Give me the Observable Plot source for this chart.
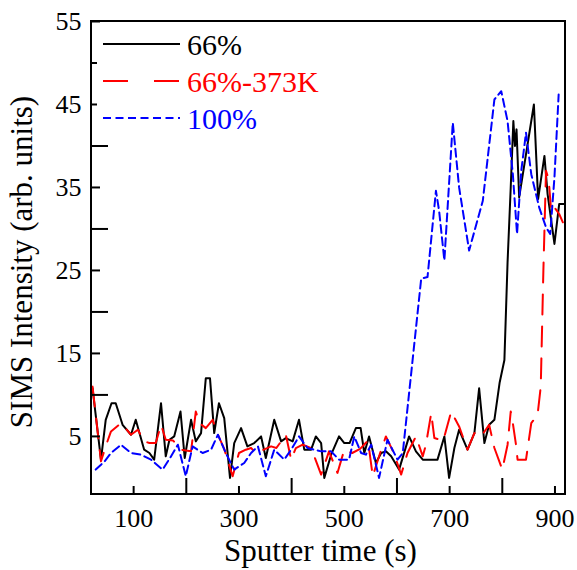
<!DOCTYPE html>
<html><head><meta charset="utf-8">
<script src="https://cdn.jsdelivr.net/npm/d3@7"></script>
<script src="https://cdn.jsdelivr.net/npm/@observablehq/plot@0.6"></script>
<style>body{margin:0;background:#fff}</style>
</head><body><div id="chart"></div>
<script>
// ---- data ----
const seriesNames = ["66%", "66%-373K", "100%"];
const seriesColors = ["#000000", "#ff0000", "#0000ff"];

const black66 = [[22,10.8],[38,2.2],[47,7],[58,9],[66,9],[79,6.4],[95,5.2],[104,7],[120,3.4],[130,3],[139,2.2],[152,9],[161,2.6],[168,4.6],[177,5],[189,8],[197,2.4],[209,7],[218,4.4],[228,5.4],[237,12],[245,12],[253,5.4],[262,9],[272,7.2],[283,0],[291,4.2],[304,6],[316,3.8],[329,4.2],[342,5],[351,2.4],[367,7],[380,4.4],[389,4.8],[402,4.4],[414,7],[424,3.4],[437,3.4],[446,5],[456,4.2],[462,0],[475,2.8],[490,5],[500,4.2],[510,4.2],[522,6],[531,6],[538,3],[547,5],[560,1.8],[570,3],[579,3.2],[589,2.6],[604,1],[623,5],[636,3.2],[649,2.2],[677,2.2],[690,5],[699,0],[709,3.6],[718,5.8],[734,3.4],[747,5.4],[756,10.8],[766,4.2],[775,6.4],[785,7],[795,11.5],[804,14.2],[810,26],[816,35],[821,43],[824,40],[827,42],[832,33.8],[860,45],[868,33.6],[880,38.8],[886,34.2],[899,28.2],[908,33],[921,33]];

const red373 = [[22,11],[38,2],[48,4],[57,5.6],[76,6.6],[95,5.2],[108,5.8],[120,4.4],[130,4.2],[142,4.2],[152,6.4],[161,4.6],[175,4.5],[190,3.4],[209,3.2],[218,8],[225,6.6],[237,6],[250,7],[260,5.2],[272,3.5],[282,1.4],[288,0.2],[300,3],[313,3.4],[323,3.6],[332,3],[347,3.4],[361,3.8],[371,3.6],[389,5.2],[399,2.2],[408,3.6],[421,4],[437,3.6],[456,0.4],[471,3.2],[487,0.6],[500,3.4],[515,3],[530,3.5],[545,4.5],[554,0.2],[568,3],[579,5],[594,3],[608,0.4],[620,3],[636,5],[649,2.6],[655,4],[665,7.8],[671,4.8],[688,4.5],[703,8],[718,6.2],[734,3.4],[747,5.4],[760,5],[775,6.4],[785,3.6],[800,1],[810,4],[816,8],[820,6.6],[826,4],[829,2.2],[845,2.2],[855,6.6],[867,7.6],[873,11],[878,25],[883,37],[888,36],[893,32],[900,32.5],[908,31.8],[915,30.8]];

const blue100 = [[28,1],[45,2],[57,3],[76,4],[95,3],[114,2.8],[133,2.2],[155,1],[170,2.5],[184,4],[199,0.2],[212,3.8],[231,3],[247,3.4],[260,5.2],[275,3],[291,1],[310,1.8],[323,3],[336,3.8],[351,0.2],[367,3.4],[386,2.2],[400,3.5],[414,5],[430,3.6],[456,3.2],[475,3.2],[490,2.2],[509,2.2],[519,5],[532,3],[541,2.8],[551,4],[566,0],[582,4.6],[601,2.2],[611,3],[646,24],[658,24.2],[674,34.6],[680,32.2],[690,26.2],[706,42.8],[718,35],[737,27.4],[763,33.4],[785,45.6],[798,46.6],[810,43],[820,36.6],[828,29.4],[836,37],[845,41.6],[855,36.6],[870,32.6],[883,30.2],[891,29.4],[899,36.2],[907,46.2]];

const xLabelTicks = [100, 300, 500, 700, 900];
const xMajorTicks = [200, 400, 600, 800];
const yLabelTicks = [5, 15, 25, 35, 45, 55];
const yMajorTicks = [10, 20, 30, 40, 50];

// ---- layout ----
const W = 577, H = 570, mL = 91, mR = 12, mT = 21, mB = 76;
const frameW = W - mL - mR, frameH = H - mT - mB;
const font = "'Liberation Serif', 'Times New Roman', serif";

const toRows = (arr, s) => arr.map(([t, v]) => ({t, v, s}));
const rows = [toRows(black66, seriesNames[0]), toRows(red373, seriesNames[1]), toRows(blue100, seriesNames[2])];
const dashes = [null, "20,12", "8,4.5"];
const legendDashes = [null, "25,26", "8,4.5"];

const plot = Plot.plot({
  width: W, height: H,
  marginLeft: mL, marginRight: mR, marginTop: mT, marginBottom: mB,
  x: {domain: [20, 920]},
  y: {domain: [-2, 55]},
  style: {fontFamily: font, background: "white", color: "black", overflow: "visible"},
  marks: [
    ...rows.map((r, i) => Plot.line(r, {x: "t", y: "v", stroke: seriesColors[i], strokeWidth: 2, strokeDasharray: dashes[i], clip: true})),
    Plot.tickX(xMajorTicks, {x: d => d, insetTop: frameH - 16, stroke: "black", strokeWidth: 2}),
    Plot.tickX(xLabelTicks, {x: d => d, insetTop: frameH - 8, stroke: "black", strokeWidth: 2}),
    Plot.tickY(yMajorTicks, {y: d => d, insetRight: frameW - 17, stroke: "black", strokeWidth: 2}),
    Plot.tickY(yLabelTicks, {y: d => d, insetRight: frameW - 9, stroke: "black", strokeWidth: 2}),
    Plot.axisX(xLabelTicks, {tickSize: 0, tickPadding: 14, fontSize: 26, label: null}),
    Plot.axisY(yLabelTicks, {tickSize: 0, tickPadding: 10, fontSize: 26, label: null}),
    Plot.text(["Sputter time (s)"], {frameAnchor: "bottom", textAnchor: "middle", lineAnchor: "middle", dy: 57, dx: -8, fontSize: 31}),
    Plot.text(["SIMS Intensity (arb. units)"], {frameAnchor: "left", textAnchor: "middle", lineAnchor: "middle", rotate: -90, dx: -69, dy: 4, fontSize: 31})
  ]
});

// legend inside the frame
const svg = d3.select(plot);
const g = svg.append("g");
g.append("rect").attr("x", 97).attr("y", 24).attr("width", 240).attr("height", 114).attr("fill", "white");
seriesNames.forEach((s, i) => {
  const y = 44 + i * 37;
  g.append("line").attr("x1", 103).attr("x2", 180).attr("y1", y).attr("y2", y)
    .attr("stroke", seriesColors[i]).attr("stroke-width", 2)
    .attr("stroke-dasharray", legendDashes[i]);
  g.append("text").attr("x", 187).attr("y", y).attr("dy", "0.35em")
    .attr("text-anchor", "start")
    .attr("fill", seriesColors[i]).attr("font-size", 30).attr("font-family", font).text(s);
});
// frame on top
svg.append("rect").attr("x", mL).attr("y", mT).attr("width", frameW).attr("height", frameH)
  .attr("fill", "none").attr("stroke", "black").attr("stroke-width", 2);

document.getElementById("chart").appendChild(plot);
</script>
</body></html>
